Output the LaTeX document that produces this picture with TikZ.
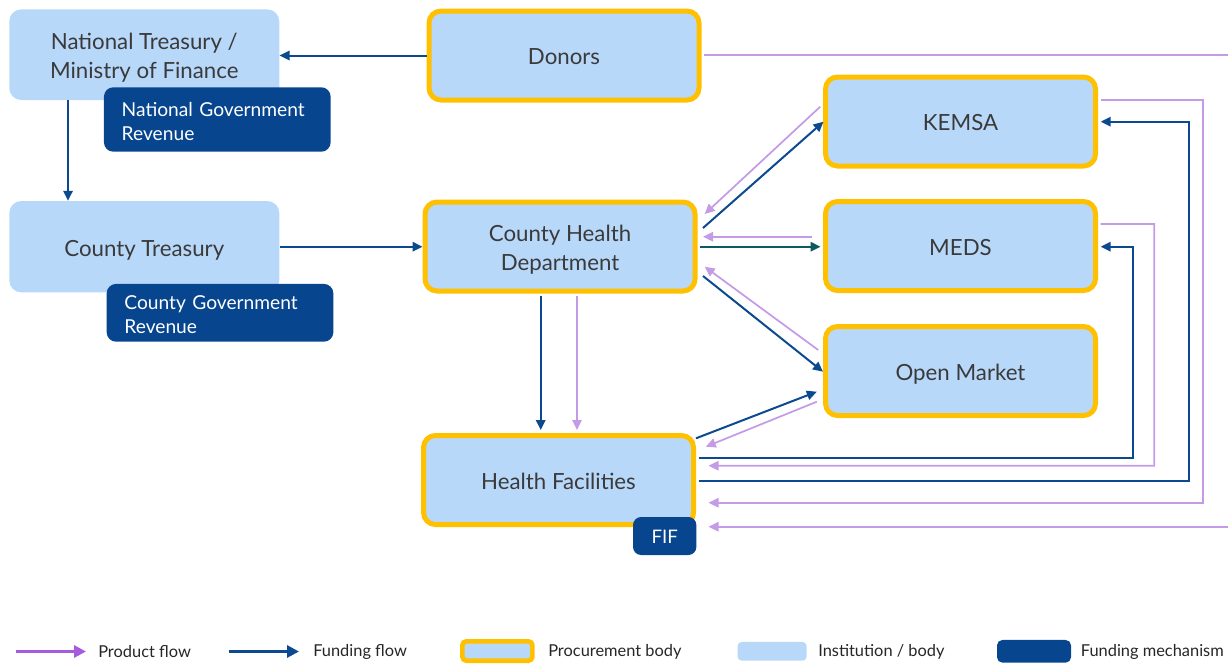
\documentclass[tikz,border=0pt]{standalone}
\usepackage{fontspec}
\setmainfont{Lato}
\usetikzlibrary{arrows.meta,calc}
\definecolor{lblue}{HTML}{B8D8FA}
\definecolor{gold}{HTML}{FFC000}
\definecolor{dblue}{HTML}{07458F}
\definecolor{fundc}{HTML}{0B4A8E}
\definecolor{prodc}{HTML}{C49BE6}
\definecolor{prodleg}{HTML}{A65BDC}
\definecolor{tealc}{HTML}{0D5B5E}
\definecolor{txt}{HTML}{3A3A3A}
\begin{document}
\begin{tikzpicture}[x=0.75pt,y=-0.75pt,
  maintext/.style={text=txt, font=\fontsize{16.7}{21.5}\selectfont, align=center},
  one/.style={text height=14pt, text depth=0pt},
  two/.style={text height=35.5pt, text depth=0pt},
  inst/.style={fill=lblue, rounded corners=9pt, minimum width=202.5pt, inner sep=0pt, maintext},
  proc/.style={fill=lblue, draw=gold, line width=3.75pt, rounded corners=9pt, minimum width=202.5pt, minimum height=66.75pt, inner sep=0pt, maintext},
  mech/.style={fill=dblue, rounded corners=7pt, text=white, font=\fontsize{14.4}{18}\selectfont, align=left, inner ysep=0pt, inner xsep=13.3pt, text width=143.4pt, minimum width=170pt, text height=13.5pt, text depth=18pt},
  tipA/.style={-{Triangle[length=7.5pt,width=7pt]}},
  fund/.style={draw=fundc, line width=1.5pt, tipA},
  teal/.style={draw=tealc, line width=1.5pt, tipA},
  prod/.style={draw=prodc, line width=1.3pt, tipA},
  legtext/.style={anchor=west, inner sep=0pt, text=black!85, font=\fontsize{12.3}{14}\selectfont},
]
\useasboundingbox (0,0) rectangle (1228,664);
\clip (0,0) rectangle (1228,664);

% institutions
\node[inst, two, minimum height=68pt] (nt) at (144.3,54.7) {National Treasury /\\Ministry of Finance};
\node[mech, minimum height=48.3pt] (ngr) at (217.3,119.5) {National Government\\Revenue};
\node[inst, one, minimum height=68.5pt] (ct) at (144.3,246.7) {County Treasury};
\node[mech, minimum height=43.3pt] (cgr) at (220,312.8) {County Government\\Revenue};

% procurement bodies
\node[proc, one] (donors) at (564,55.5) {Donors};
\node[proc, one] (kemsa) at (960.5,121.5) {KEMSA};
\node[proc, one] (meds) at (960.5,246) {MEDS};
\node[proc, one] (om) at (960.5,371) {Open Market};
\node[proc, two] (chd) at (560,246.5) {County Health\\Department};
\node[proc, one] (hf) at (558.5,480) {Health Facilities};
\node[fill=dblue, rounded corners=6pt, text=white, font=\fontsize{14}{16}\selectfont, minimum width=47.5pt, minimum height=28.5pt, inner sep=0pt, text height=11pt, text depth=0pt] (fif) at (664.7,536) {FIF};

% helper points
\coordinate (ntb) at ($(nt.south west)+(59,0)$);
\coordinate (chdf) at ($(chd.south)+(-19.3,2.5)$);
\coordinate (chdp) at ($(chd.south)+(17,2.5)$);

% funding flows, left part
\draw[fund] (donors.west) -- (donors.west -| nt.east);
\draw[fund] (ntb) -- (ntb |- ct.north);
\draw[fund] (ct.east) -- (ct.east -| chd.west);

% CHD <-> KEMSA
\draw[prod] ($(kemsa.west)+(-2.8,-14.8)$) -- ($(chd.east)+(7.2,-32.5)$);
\draw[fund] ($(chd.east)+(5.5,-18.5)$) -- ($(kemsa.west)+(0.5,0.2)$);
% CHD <-> MEDS
\draw[prod] ($(meds.west)+(-11.5,-9.3)$) -- ($(chd.east)+(5.5,-9.8)$);
\draw[teal] ($(chd.east)+(2.5,0.2)$) -- ($(meds.west)+(-2.5,0.7)$);
% CHD <-> Open Market
\draw[prod] ($(om.west)+(-4.8,-21)$) -- ($(chd.east)+(7.2,20.2)$);
\draw[fund] ($(chd.east)+(5.5,29.5)$) -- ($(om.west)+(0,0.7)$);
% HF <-> Open Market
\draw[fund] ($(hf.east)+(0,-41.7)$) -- ($(om.west)+(-6.2,20.7)$);
\draw[prod] ($(om.west)+(-6.2,30.7)$) -- ($(hf.east)+(9.8,-33.3)$);
% CHD -> HF
\draw[fund] (chdf) -- ($(chdf |- hf.north)+(0,-3)$);
\draw[prod] (chdp) -- ($(chdp |- hf.north)+(0,-3)$);

% long right-hand loops
\draw[fund] ($(hf.east)+(2.5,-22.3)$) -| (1132.7,246.7) -- ($(meds.east)+(2.7,0.7)$);
\draw[prod] ($(meds.east)+(2.5,-22)$) -| (1154.3,465.7) -- ($(hf.east)+(12.5,-14.3)$);
\draw[fund] ($(hf.east)+(2.5,1)$) -| (1189.3,121.7) -- ($(kemsa.east)+(2.7,0.2)$);
\draw[prod] ($(kemsa.east)+(2.5,-21.5)$) -| (1203.3,502.7) -- ($(hf.east)+(12.5,22.7)$);
\draw[prod] ($(donors.east)+(2.5,-0.5)$) -| (1240,526.7) -- ($(hf.east)+(12.5,46.7)$);

% legend
\coordinate (lp1) at (15.7,651.5);
\coordinate (lp2) at (86,651.5);
\coordinate (lf1) at (228.7,651.5);
\coordinate (lf2) at (299,651.5);
\draw[draw=prodleg, line width=2.3pt, -{Triangle[length=9pt,width=9pt]}] (lp1) -- (lp2);
\node[legtext] (tp) at (98,652) {Product flow};
\draw[draw=fundc, line width=2.3pt, -{Triangle[length=9pt,width=9pt]}] (lf1) -- (lf2);
\node[legtext] (tf) at (313,652) {Funding flow};
\node[fill=lblue, draw=gold, line width=3.5pt, rounded corners=3pt, minimum width=52.5pt, minimum height=14.5pt, inner sep=0pt] (sp) at (497.4,651) {};
\node[legtext] (tpb) at (548,652) {Procurement body};
\node[fill=lblue, rounded corners=3pt, minimum width=51.75pt, minimum height=14pt, inner sep=0pt] (si) at (772.1,651.3) {};
\node[legtext] (tib) at (818,652) {Institution / body};
\node[fill=dblue, rounded corners=4pt, minimum width=55.5pt, minimum height=17pt, inner sep=0pt] (sm) at (1034,651.3) {};
\node[legtext] (tfm) at (1080.6,652) {Funding mechanism};
\end{tikzpicture}
\end{document}
